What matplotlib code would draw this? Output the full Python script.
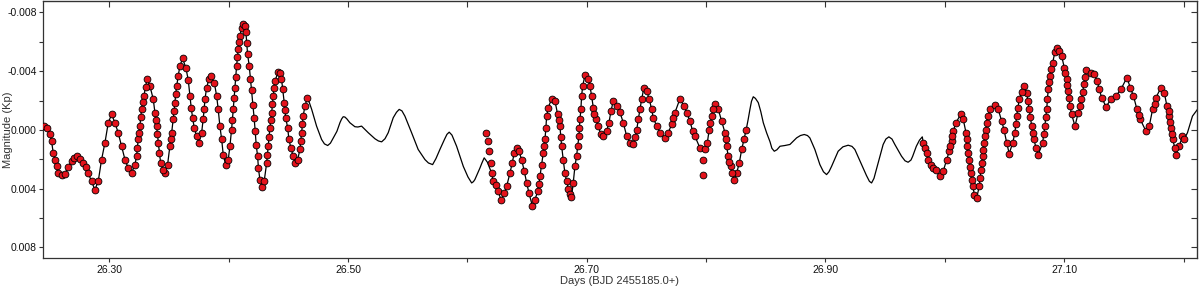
import numpy as np
import matplotlib
matplotlib.use("Agg")
import matplotlib.pyplot as plt
from matplotlib.ticker import MultipleLocator, FormatStrFormatter

plt.rcParams['font.family'] = ['Liberation Sans', 'DejaVu Sans']

# --- observed points (BJD - 2455185.0, magnitude in mmag) ---
# first chunk
t_a = [26.2453, 26.2476, 26.2503, 26.2517, 26.2531, 26.2545, 26.2559, 26.2573, 26.2601, 26.2629,
       26.2657, 26.2685, 26.2704, 26.2727, 26.2755, 26.2782, 26.2805, 26.2824, 26.2853, 26.2880,
       26.2908, 26.2936, 26.2964, 26.2992, 26.3020, 26.3048, 26.3075, 26.3104, 26.3132, 26.3159,
       26.3188, 26.3215, 26.3230, 26.3243, 26.3257, 26.3271, 26.3291, 26.3318, 26.3341, 26.3369,
       26.3383, 26.3397, 26.3411, 26.3431, 26.3467, 26.3489, 26.3508, 26.3523, 26.3536, 26.3550,
       26.3565, 26.3578, 26.3592, 26.3615, 26.3643, 26.3662, 26.3676, 26.3687, 26.3699, 26.3712,
       26.3732, 26.3751, 26.3774, 26.3787, 26.3802, 26.3816, 26.3835, 26.3852, 26.3880, 26.3900,
       26.3913, 26.3927, 26.3942, 26.3955, 26.3975, 26.3997, 26.4011, 26.4025, 26.4039, 26.4053,
       26.4067, 26.4081, 26.4095, 26.4109, 26.4123, 26.4134, 26.4145, 26.4152, 26.4159, 26.4173,
       26.4183, 26.4193, 26.4204, 26.4214, 26.4223, 26.4231, 26.4243, 26.4250, 26.4262, 26.4277,
       26.4298, 26.4319, 26.4332, 26.4346, 26.4361, 26.4374, 26.4388, 26.4416, 26.4430, 26.4443,
       26.4453, 26.4466, 26.4478, 26.4495, 26.4505, 26.4522, 26.4541, 26.4556, 26.4578, 26.4598,
       26.4612, 26.4625, 26.4639, 26.4659]
m_a = [-0.30, -0.15, 0.31, 0.77, 1.56, 2.02, 2.48, 2.93, 3.04, 2.97,
       2.50, 2.13, 1.90, 1.79, 1.95, 2.24, 2.55, 2.93, 3.50, 4.07,
       3.50, 2.02, 0.88, -0.49, -1.06, -0.49, 0.19, 1.11, 2.02, 2.59,
       2.93, 2.36, 1.79, 0.65, -0.26, -1.40, -2.31, -3.45, -2.99, -2.09,
       -1.18, -0.26, 0.88, 2.24, 2.93, 2.36, 1.11, 0.19, -0.72, -1.86,
       -2.99, -3.68, -4.36, -4.87, -4.20, -3.40, -2.30, -1.50, -0.80, -0.15,
       0.42, 0.88, 0.19, -0.72, -2.09, -2.88, -3.45, -3.64, -3.23, -2.31,
       -1.40, -0.26, 0.65, 1.68, 2.36, 2.02, 1.11, -0.03, -1.40, -2.88,
       -4.36, -5.50, -6.41, -6.95, -7.21, -7.05, -6.65, -5.90, -5.16, -4.36,
       -3.50, -2.70, -1.70, -0.80, 0.10, 1.00, 1.79, 2.60, 3.38, 3.88,
       3.50, 2.24, 1.11, -0.15, -1.18, -2.31, -3.34, -3.95, -3.90, -3.50,
       -2.80, -1.86, -0.83, -0.15, 0.65, 1.22, 1.79, 2.24, 2.02, 1.33,
       0.19, -0.94, -1.63, -2.15]

# second chunk
t_b = [26.6156, 26.6170, 26.6181, 26.6195, 26.6203, 26.6217, 26.6237, 26.6259, 26.6281, 26.6309,
       26.6329, 26.6357, 26.6376, 26.6393, 26.6413, 26.6432, 26.6455, 26.6477, 26.6497, 26.6516,
       26.6544, 26.6566, 26.6589, 26.6608, 26.6622, 26.6636, 26.6650, 26.6658, 26.6664, 26.6678,
       26.6706, 26.6734, 26.6756, 26.6776, 26.6790, 26.6803, 26.6817, 26.6832, 26.6847, 26.6859,
       26.6872, 26.6887, 26.6901, 26.6915, 26.6924, 26.6935, 26.6943, 26.6951, 26.6957, 26.6966,
       26.6985, 26.7013, 26.7027, 26.7041, 26.7055, 26.7075, 26.7096, 26.7119, 26.7138, 26.7167,
       26.7186, 26.7203, 26.7222, 26.7251, 26.7278, 26.7306, 26.7334, 26.7362, 26.7390, 26.7419,
       26.7432, 26.7446, 26.7460, 26.7479, 26.7502, 26.7524, 26.7544, 26.7557, 26.7586, 26.7613,
       26.7655, 26.7683, 26.7711, 26.7739, 26.7781, 26.7814, 26.7837, 26.7865, 26.7887, 26.7906,
       26.7948, 26.7990, 26.8010, 26.8026, 26.8046, 26.8074, 26.8102, 26.8130, 26.8158, 26.8172,
       26.8185, 26.8206, 26.8233, 26.8256, 26.8278, 26.8298, 26.8317, 26.8336]
m_b = [0.19, 0.77, 1.45, 2.24, 2.93, 3.50, 3.73, 4.19, 4.75, 4.29,
       3.84, 2.93, 2.24, 1.56, 1.22, 1.45, 2.02, 2.82, 3.61, 4.29,
       5.16, 4.75, 4.19, 3.16, 2.36, 1.56, 0.65, -0.15, -0.94, -1.52,
       -2.13, -1.97, -1.06, -0.26, 1.11, 2.02, 2.93, 3.50, 4.00, 4.35,
       4.60, 3.60, 2.48, 1.79, 1.11, 0.42, -0.72, -1.40, -2.31, -2.99,
       -3.73, -3.45, -2.99, -2.31, -1.52, -0.72, -0.26, 0.31, 0.42, 0.08,
       -0.49, -1.28, -1.97, -1.63, -1.20, -0.50, 0.40, 0.88, 0.99, -0.03,
       -0.72, -1.40, -2.09, -2.88, -2.65, -2.09, -1.40, -0.83, -0.26, 0.19,
       0.54, 0.19, -0.38, -1.18, -2.13, -1.63, -1.18, -0.60, 0.08, 0.42,
       1.22, 1.30, 0.88, -0.03, -0.94, -1.74, -1.40, -0.60, 0.19, 1.11,
       1.79, 2.48, 3.38, 2.93, 2.24, 1.33, 0.65, -0.03]

# two discrepant points in the second chunk
t_out = [26.7976, 26.7976]
m_out = [2.02, 3.04]

# third chunk
t_c = [26.9819, 26.9833, 26.9847, 26.9861, 26.9881, 26.9903, 26.9927, 26.9959, 26.9986, 27.0015,
       27.0037, 27.0057, 27.0070, 27.0093, 27.0132, 27.0154, 27.0177, 27.0188, 27.0204, 27.0219,
       27.0233, 27.0248, 27.0266, 27.0288, 27.0302, 27.0317, 27.0327, 27.0344, 27.0358, 27.0378,
       27.0419, 27.0447, 27.0476, 27.0495, 27.0518, 27.0539, 27.0568, 27.0587, 27.0601, 27.0623,
       27.0662, 27.0685, 27.0707, 27.0727, 27.0746, 27.0782, 27.0819, 27.0838, 27.0853, 27.0866,
       27.0880, 27.0903, 27.0922, 27.0939, 27.0960, 27.0978, 27.1000, 27.1020, 27.1033, 27.1048,
       27.1062, 27.1090, 27.1117, 27.1140, 27.1162, 27.1182, 27.1224, 27.1252, 27.1274, 27.1294,
       27.1313, 27.1350, 27.1392, 27.1433, 27.1475, 27.1525, 27.1553, 27.1580, 27.1609, 27.1637,
       27.1684, 27.1712, 27.1740, 27.1768, 27.1810, 27.1838, 27.1860, 27.1880, 27.1894, 27.1907,
       27.1936, 27.1963, 27.1990, 27.2004]
m_c = [0.88, 1.22, 1.56, 2.02, 2.36, 2.59, 2.70, 3.16, 2.82, 2.02,
       1.45, 0.77, 0.08, -0.49, -1.06, -0.72, 0.19, 1.11, 2.02, 2.93,
       3.84, 4.40, 4.64, 3.84, 2.70, 1.79, 0.88, -0.03, -0.94, -1.40,
       -1.68, -1.40, -0.60, -0.03, 0.88, 1.61, 0.88, 0.19, -0.94, -2.09,
       -2.99, -2.54, -1.40, -0.26, 0.65, 1.68, 0.88, -0.26, -1.40, -2.77,
       -3.68, -4.59, -5.30, -5.55, -5.40, -5.05, -4.25, -3.45, -2.65, -1.63,
       -1.06, -0.26, -1.18, -2.09, -3.11, -4.09, -3.91, -3.79, -3.34, -2.77,
       -2.20, -1.59, -2.09, -2.31, -2.77, -3.57, -2.88, -2.31, -1.40, -0.72,
       0.08, -0.26, -1.40, -2.20, -2.88, -2.54, -1.63, -0.94, -0.15, 0.65,
       1.68, 1.11, 0.42, 0.65]

# more points on the steep rises and falls
t_extra = [26.3236, 26.3251, 26.3264, 26.3281, 26.3304, 26.3390, 26.3404, 26.3421, 26.3448, 26.3515,
           26.3544, 26.3557, 26.3795, 26.4032, 26.4046, 26.4060, 26.4074, 26.4088, 26.4325, 26.4339,
           26.4353, 26.4367, 26.4381, 26.4472, 26.4604, 26.4618,
           26.6599, 26.6643, 26.6766, 26.6782, 26.6939, 26.7065, 26.7404, 26.7724, 26.8036, 26.8060,
           26.8164, 26.8195, 26.8219,
           27.0047, 27.0063, 27.0182, 27.0196, 27.0212, 27.0225, 27.0296, 27.0310, 27.0322, 27.0336,
           27.0351, 27.0594, 27.0612, 27.0642, 27.0696, 27.0717, 27.0736, 27.0763, 27.0828, 27.0845,
           27.0859, 27.0873, 27.0891, 27.1010, 27.1027, 27.1041, 27.1134, 27.1157, 27.1178, 27.1623,
           27.1760, 27.1875, 27.1886, 27.1900, 27.1927]
m_extra = [1.20, 0.20, -0.85, -1.90, -2.95, -0.70, 0.30, 1.60, 2.70, 0.65,
           -1.30, -2.45, -1.40, -0.70, -2.15, -3.60, -4.95, -6.00, 1.70, 0.50,
           -0.65, -1.75, -2.85, -1.35, 0.75, -0.40,
           3.70, 1.10, -0.65, 0.45, -0.15, -1.10, 0.50, -0.80, -0.50, -1.40,
           0.65, 2.15, 2.95,
           1.10, 0.42, 0.65, 1.55, 2.50, 3.40, 3.25, 2.25, 1.35, 0.42,
           -0.50, -0.38, -1.50, -2.60, -1.95, -0.85, 0.20, 1.20, 0.30, -0.85,
           -2.10, -3.25, -4.15, -3.85, -3.05, -2.15, -1.65, -2.60, -3.60, -1.05,
           -1.80, -1.30, -0.55, 0.25, 1.20]

# --- model curve where there are no observations ---
t_gap1 = [26.4677, 26.4696, 26.4737, 26.4779, 26.4803, 26.4830, 26.4853, 26.4877, 26.4907, 26.4933,
          26.4947, 26.4960, 26.4974, 26.4991, 26.5016, 26.5058, 26.5083, 26.5114, 26.5170, 26.5226,
          26.5255, 26.5282, 26.5310, 26.5337, 26.5379, 26.5406, 26.5429, 26.5452, 26.5477, 26.5533,
          26.5588, 26.5645, 26.5674, 26.5709, 26.5737, 26.5770, 26.5808, 26.5829, 26.5848, 26.5871,
          26.5910, 26.5938, 26.5966, 26.6005, 26.6036, 26.6051, 26.6063, 26.6105, 26.6122, 26.6141,
          26.6168]
m_gap1 = [-1.85, -1.40, -0.26, 0.65, 0.95, 1.06, 0.90, 0.55, 0.10, -0.50,
          -0.75, -0.90, -0.88, -0.75, -0.49, -0.22, -0.20, -0.26, 0.19, 0.60,
          0.75, 0.81, 0.60, 0.19, -0.83, -1.20, -1.40, -1.30, -0.94, 0.19,
          1.33, 2.02, 2.25, 2.36, 1.95, 1.33, 0.65, 0.30, 0.15, 0.35,
          1.11, 1.80, 2.48, 3.20, 3.61, 3.52, 3.38, 2.60, 2.25, 1.90,
          2.20]

t_gap2 = [26.8353, 26.8367, 26.8380, 26.8395, 26.8413, 26.8437, 26.8458, 26.8479, 26.8507, 26.8535,
          26.8551, 26.8571, 26.8593, 26.8619, 26.8660, 26.8702, 26.8758, 26.8790, 26.8822, 26.8849,
          26.8869, 26.8911, 26.8953, 26.8983, 26.9009, 26.9029, 26.9051, 26.9106, 26.9146, 26.9190,
          26.9222, 26.9246, 26.9302, 26.9343, 26.9368, 26.9386, 26.9406, 26.9441, 26.9483, 26.9506,
          26.9531, 26.9557, 26.9581, 26.9637, 26.9666, 26.9692, 26.9716, 26.9730, 26.9761, 26.9787,
          26.9811]
m_gap2 = [-0.75, -1.40, -1.95, -2.26, -2.15, -1.86, -1.25, -0.49, 0.20, 0.80,
          1.25, 1.45, 1.35, 1.11, 1.06, 0.99, 0.54, 0.38, 0.31, 0.38,
          0.54, 1.33, 2.36, 2.85, 3.04, 2.85, 2.48, 1.45, 1.15, 1.04,
          1.12, 1.33, 2.36, 3.10, 3.50, 3.61, 3.30, 2.24, 0.99, 0.62,
          0.47, 0.62, 0.99, 1.79, 2.10, 2.20, 2.05, 1.80, 1.11, 0.70,
          0.47]

t_tail = [27.2032, 27.2074, 27.2116]
m_tail = [0.19, -0.94, -1.40]

xticks_major = [26.30, 26.50, 26.70, 26.90, 27.10]

# convert to arrays (mag)
ta, ma = np.array(t_a), np.array(m_a) / 1000
tb, mb = np.array(t_b), np.array(m_b) / 1000
tc, mc = np.array(t_c), np.array(m_c) / 1000
te, me = np.array(t_extra), np.array(m_extra) / 1000

keep_b = tb >= 26.62  # the model sits below the first few points of chunk 2
t_line = np.concatenate([ta, t_gap1, tb[keep_b], t_gap2, tc, t_tail, te])
m_line = np.concatenate([ma, np.array(m_gap1) / 1000, mb[keep_b],
                         np.array(m_gap2) / 1000, mc, np.array(m_tail) / 1000, me])
order = np.argsort(t_line)
t_line, m_line = t_line[order], m_line[order]

t_obs = np.concatenate([ta, tb, np.array(t_out), tc, te])
m_obs = np.concatenate([ma, mb, np.array(m_out) / 1000, mc, me])

fig = plt.figure(figsize=(12, 2.93), dpi=100)
ax = fig.add_axes([0.0358, 0.1195, 0.9617, 0.877])

ax.plot(t_line, m_line, color='black', lw=0.9, zorder=2)
ax.plot(t_obs, m_obs, 'o', ms=4.9, mfc='#e3121b', mec='black', mew=0.6, zorder=3)

ax.set_xlim(26.2445, 27.2112)
ax.set_ylim(0.00872, -0.00878)

ax.set_xticks(xticks_major)
ax.xaxis.set_minor_locator(MultipleLocator(0.1))
ax.xaxis.set_major_formatter(FormatStrFormatter('%.2f'))
ax.yaxis.set_major_locator(MultipleLocator(0.004))
ax.yaxis.set_minor_locator(MultipleLocator(0.002))
ax.yaxis.set_major_formatter(FormatStrFormatter('%.3f'))

ax.tick_params(which='both', direction='out', length=3, width=0.8,
               labelsize=7.5, colors='#333333', labelcolor='#111111')
ax.tick_params(axis='x', pad=2)
ax.tick_params(axis='y', pad=1.5)
for s in ax.spines.values():
    s.set_color('#333333')
    s.set_linewidth(0.9)

# mirrored inward ticks on top and right
top = ax.secondary_xaxis('top')
top.set_xticks(xticks_major)
top.xaxis.set_minor_locator(MultipleLocator(0.1))
top.tick_params(which='both', direction='in', length=4, width=0.8,
                labeltop=False, colors='#333333')
right = ax.secondary_yaxis('right')
right.yaxis.set_major_locator(MultipleLocator(0.004))
right.yaxis.set_minor_locator(MultipleLocator(0.002))
right.tick_params(which='both', direction='in', length=4, width=0.8,
                  labelright=False, colors='#333333')

ax.set_xlabel('Days (BJD 2455185.0+)', fontsize=8, color='#333333')
ax.set_ylabel('Magnitude (Kp)', fontsize=8, color='#333333')
ax.xaxis.set_label_coords(0.5, -0.072)
ax.yaxis.set_label_coords(-0.026, 0.5)

fig.savefig('out.png', dpi=100)
